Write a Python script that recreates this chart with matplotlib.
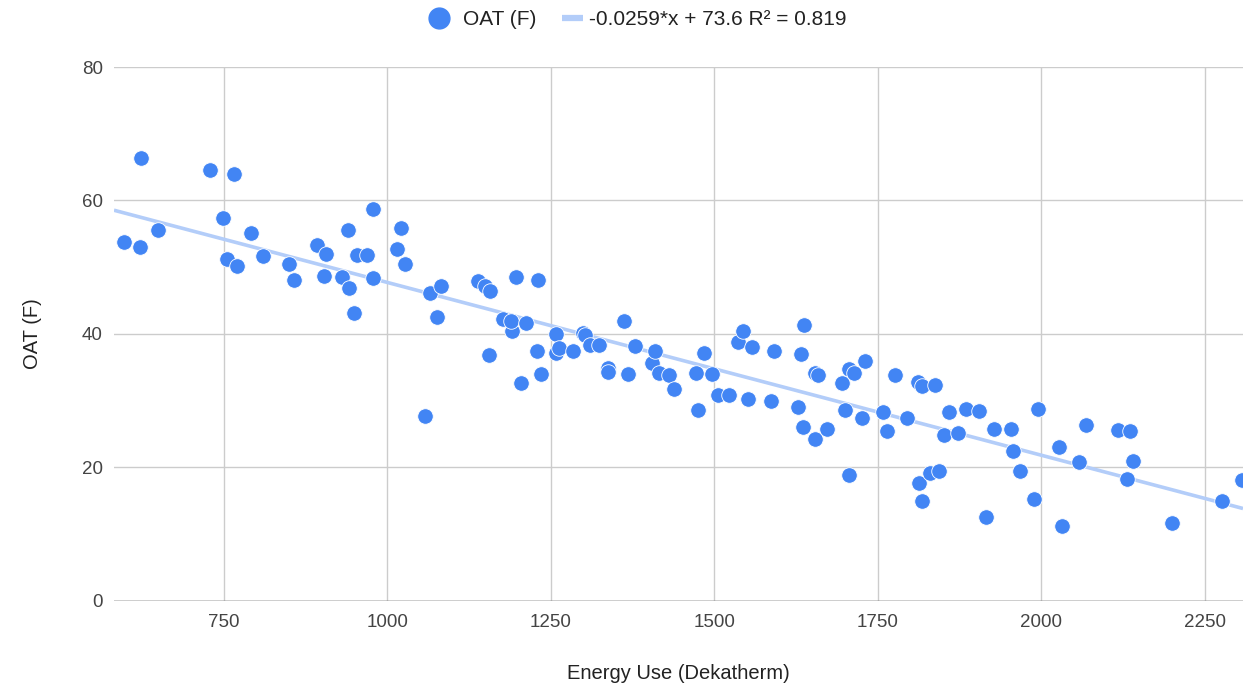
import matplotlib.pyplot as plt
from matplotlib.lines import Line2D

plt.rcParams['font.family'] = ['Liberation Sans', 'DejaVu Sans']

# Energy use (Dekatherm) and outside air temperature (F)
energy = [597, 622, 623, 649, 729, 748, 755, 766, 770, 791, 810, 849, 857, 892, 903, 906,
          930, 940, 941, 949, 953, 969, 978, 978, 1014, 1021, 1027, 1057, 1065, 1076, 1082,
          1138, 1149, 1157, 1155, 1177, 1190, 1189, 1196, 1204, 1212, 1230, 1229, 1235,
          1258, 1257, 1263, 1284, 1299, 1302, 1310, 1324, 1337, 1337, 1361, 1367, 1379,
          1404, 1409, 1415, 1431, 1438, 1472, 1475, 1484, 1496, 1506, 1522, 1536, 1543,
          1551, 1558, 1591, 1586, 1628, 1635, 1632, 1637, 1653, 1654, 1659, 1672, 1695,
          1700, 1705, 1705, 1714, 1726, 1730, 1758, 1764, 1776, 1795, 1811, 1813, 1817,
          1818, 1829, 1837, 1844, 1851, 1859, 1873, 1885, 1905, 1915, 1928, 1954, 1957,
          1967, 1988, 1994, 2027, 2031, 2057, 2068, 2117, 2130, 2135, 2140, 2199, 2276,
          2307]
oat = [53.7, 53.0, 66.4, 55.6, 64.6, 57.4, 51.2, 64.0, 50.2, 55.1, 51.7, 50.5, 48.1, 53.3,
       48.7, 51.9, 48.5, 55.6, 46.8, 43.1, 51.8, 51.8, 58.7, 48.3, 52.7, 55.9, 50.4, 27.7,
       46.1, 42.6, 47.2, 47.9, 47.1, 46.4, 36.8, 42.3, 40.4, 42.0, 48.5, 32.7, 41.6, 48.0,
       37.4, 34.0, 40.0, 37.1, 37.9, 37.4, 40.2, 39.8, 38.4, 38.4, 34.9, 34.3, 42.0, 34.0,
       38.2, 35.7, 37.4, 34.1, 33.9, 31.7, 34.1, 28.6, 37.2, 34.0, 30.9, 30.9, 38.8, 40.4,
       30.2, 38.0, 37.4, 29.9, 29.1, 26.0, 37.0, 41.4, 24.2, 34.2, 33.8, 25.8, 32.6, 28.6,
       34.8, 18.9, 34.2, 27.4, 36.0, 28.3, 25.5, 33.8, 27.4, 32.8, 17.7, 32.2, 15.0, 19.1,
       32.4, 19.5, 24.8, 28.3, 25.1, 28.8, 28.4, 12.5, 25.7, 25.7, 22.5, 19.5, 15.2, 28.7,
       23.1, 11.2, 20.8, 26.4, 25.6, 18.2, 25.4, 21.0, 11.7, 15.0, 18.1]

slope = -0.0259
intercept = 73.6
legend_labels = ['OAT (F)', '-0.0259*x + 73.6 R\u00b2 = 0.819']

point_color = '#4285f4'
trend_color = '#b3cdf9'

fig = plt.figure(figsize=(12.43, 6.83), dpi=100)
ax = fig.add_axes([0.0917, 0.1205, 0.9083, 0.7814])

x0, x1 = 581.8, 2308.1
ax.plot([x0, x1], [slope * x0 + intercept, slope * x1 + intercept],
        color=trend_color, linewidth=2.6, solid_capstyle='butt', zorder=2)
ax.scatter(energy, oat, s=125, color=point_color, edgecolors='white', linewidths=0.6,
           zorder=3)

ax.set_xlim(x0, x1)
ax.set_ylim(0, 80)
ax.set_xticks([750, 1000, 1250, 1500, 1750, 2000, 2250])
ax.set_yticks([0, 20, 40, 60, 80])
ax.grid(True, color='#cccccc', linewidth=1)
ax.set_axisbelow(True)
ax.axhline(0, color='#333333', linewidth=1, zorder=1.5)
for side in ['top', 'right', 'left', 'bottom']:
    ax.spines[side].set_visible(False)
ax.tick_params(length=0, labelsize=13.5, colors='#444444')
ax.tick_params(axis='y', pad=8)
ax.tick_params(axis='x', pad=9.5)

ax.set_xlabel('Energy Use (Dekatherm)', fontsize=14.5, color='#222222', labelpad=24)
ax.set_ylabel('OAT (F)', fontsize=14.5, color='#222222', labelpad=29)

# Legend: two single-entry legends so the spacing matches the reference
dot = Line2D([], [], marker='o', linestyle='none', markersize=15,
             markerfacecolor=point_color, markeredgecolor=point_color)
bar = Line2D([], [], color=trend_color, linewidth=4.5, solid_capstyle='butt')
common = dict(loc='center left', frameon=False, fontsize=15, borderpad=0,
              borderaxespad=0, handlelength=1.0, labelcolor='#222222')
fig.legend([dot], legend_labels[:1], bbox_to_anchor=(0.3447, 0.971),
           handletextpad=0.65, **common)
fig.legend([bar], legend_labels[1:], bbox_to_anchor=(0.4519, 0.971),
           handletextpad=0.3, **common)

fig.savefig('out.png', dpi=100)
